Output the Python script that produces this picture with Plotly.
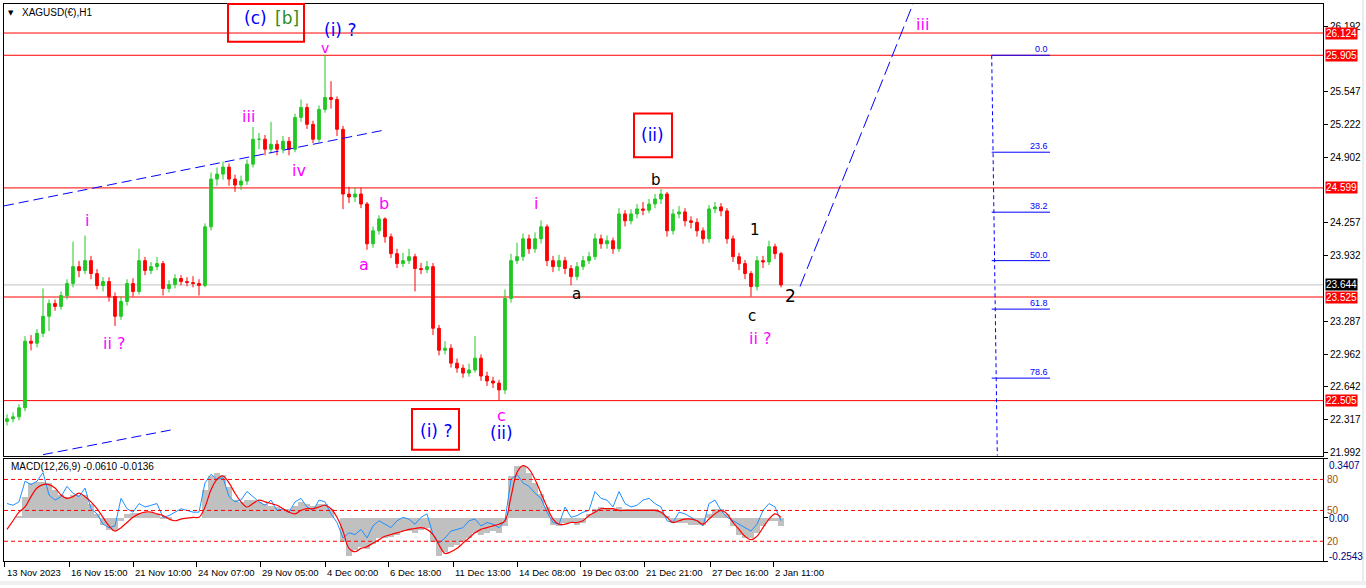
import plotly.graph_objects as go

W, H = 1366, 588
PX_L, PX_R = 4, 1323
MAIN_T, MAIN_B = 4, 458
MACD_T, MACD_B = 461, 564

PRICE_TOP, PRICE_BOT = 26.410, 21.963
MACD_TOP, MACD_BOT = 0.3407, -0.2543

# ---------------- data ----------------
first_open = 22.300
closes = [22.326, 22.345, 22.434, 23.090, 23.070, 23.168, 23.335, 23.462, 23.432, 23.540,
          23.658, 23.824, 23.785, 23.883, 23.756, 23.638, 23.677, 23.530, 23.335, 23.481,
          23.658, 23.579, 23.883, 23.785, 23.824, 23.854, 23.609, 23.648, 23.707, 23.677,
          23.668, 23.658, 23.638, 24.216, 24.686, 24.735, 24.804, 24.686, 24.627, 24.667,
          24.833, 25.078, 25.078, 24.980, 25.029, 24.980, 25.058, 24.980, 25.293, 25.391,
          25.225, 25.078, 25.372, 25.489, 25.470, 25.176, 24.539, 24.510, 24.539, 24.441,
          24.049, 24.177, 24.294, 24.118, 23.952, 23.854, 23.883, 23.922, 23.805, 23.795,
          23.824, 23.217, 23.001, 23.021, 22.874, 22.825, 22.776, 22.806, 22.923, 22.747,
          22.698, 22.678, 22.610, 23.510, 23.883, 23.922, 24.098, 24.000, 24.098, 24.216,
          23.883, 23.824, 23.883, 23.805, 23.726, 23.824, 23.883, 23.922, 24.098, 24.049,
          24.079, 24.000, 24.343, 24.275, 24.343, 24.392, 24.380, 24.441, 24.490, 24.539,
          24.177, 24.343, 24.363, 24.275, 24.260, 24.177, 24.098, 24.392, 24.412, 24.373,
          24.098, 23.922, 23.854, 23.756, 23.628, 23.883, 23.870, 24.020, 23.952, 23.644]
highs = [22.37, 22.39, 22.47, 23.14, 23.15, 23.21, 23.61, 23.50, 23.50, 23.58,
         23.70, 24.07, 23.88, 24.13, 23.93, 23.80, 23.72, 23.72, 23.57, 23.53,
         23.70, 23.71, 24.00, 23.92, 23.87, 23.92, 23.88, 23.69, 23.75, 23.74,
         23.72, 23.73, 23.70, 24.25, 24.75, 24.80, 24.86, 24.84, 24.73, 24.72,
         24.88, 25.20, 25.14, 25.12, 25.25, 25.07, 25.11, 25.10, 25.33, 25.47,
         25.43, 25.26, 25.41, 25.91, 25.65, 25.50, 25.21, 24.61, 24.60, 24.60,
         24.46, 24.22, 24.33, 24.31, 24.15, 24.00, 23.96, 24.00, 23.95, 23.86,
         23.88, 23.86, 23.25, 23.09, 23.06, 22.92, 22.86, 22.87, 23.14, 22.96,
         22.79, 22.74, 22.71, 23.60, 23.95, 24.06, 24.15, 24.14, 24.16, 24.28,
         24.24, 23.93, 23.94, 23.92, 23.84, 23.87, 23.93, 23.97, 24.15, 24.14,
         24.13, 24.11, 24.40, 24.38, 24.39, 24.44, 24.46, 24.49, 24.54, 24.59,
         24.56, 24.39, 24.42, 24.40, 24.32, 24.30, 24.21, 24.43, 24.46, 24.45,
         24.40, 24.13, 23.96, 23.89, 23.78, 23.93, 23.93, 24.08, 24.05, 23.97]
lows = [22.26, 22.29, 22.31, 22.40, 23.00, 23.03, 23.13, 23.19, 23.39, 23.40,
        23.50, 23.62, 23.72, 23.75, 23.70, 23.60, 23.58, 23.48, 23.24, 23.30,
        23.44, 23.53, 23.55, 23.74, 23.75, 23.79, 23.54, 23.57, 23.61, 23.64,
        23.63, 23.62, 23.54, 23.62, 24.18, 24.62, 24.68, 24.62, 24.56, 24.58,
        24.63, 24.80, 24.98, 24.92, 24.94, 24.92, 24.94, 24.92, 24.95, 25.25,
        25.18, 25.04, 25.05, 25.34, 25.38, 25.11, 24.39, 24.45, 24.46, 24.40,
        23.99, 24.01, 24.14, 24.06, 23.91, 23.81, 23.82, 23.85, 23.58, 23.75,
        23.76, 23.15, 22.95, 22.96, 22.83, 22.78, 22.73, 22.74, 22.78, 22.70,
        22.65, 22.63, 22.51, 22.57, 23.47, 23.85, 23.88, 23.95, 23.96, 24.05,
        23.83, 23.77, 23.78, 23.75, 23.64, 23.69, 23.79, 23.85, 23.89, 24.00,
        24.00, 23.95, 23.97, 24.22, 24.24, 24.30, 24.33, 24.35, 24.40, 24.44,
        24.12, 24.14, 24.30, 24.22, 24.20, 24.12, 24.05, 24.06, 24.35, 24.32,
        24.05, 23.87, 23.79, 23.70, 23.53, 23.59, 23.81, 23.84, 23.90, 23.62]

macd_hist = [0.0, 0.0, 0.01, 0.12, 0.2, 0.21, 0.21, 0.2, 0.16, 0.13,
             0.12, 0.13, 0.13, 0.13, 0.08, 0.02, -0.04, -0.07, -0.08, -0.02,
             0.02, 0.03, 0.03, 0.03, 0.03, 0.02, -0.01, -0.01, 0.0, 0.0,
             0.0, 0.0, 0.0, 0.16, 0.24, 0.26, 0.25, 0.18, 0.1, 0.09,
             0.1, 0.1, 0.09, 0.08, 0.07, 0.06, 0.05, 0.05, 0.07, 0.09,
             0.08, 0.07, 0.08, 0.08, 0.05, 0.0, -0.14, -0.22, -0.19, -0.17,
             -0.18, -0.15, -0.12, -0.12, -0.11, -0.1, -0.08, -0.08, -0.09, -0.07,
             -0.06, -0.14, -0.22, -0.2, -0.17, -0.16, -0.14, -0.12, -0.09, -0.1,
             -0.09, -0.08, -0.09, -0.05, 0.24, 0.3, 0.3, 0.26, 0.2, 0.14,
             0.06, -0.04, -0.05, -0.03, -0.03, -0.04, -0.03, 0.02, 0.05, 0.06,
             0.05, 0.05, 0.06, 0.05, 0.05, 0.05, 0.05, 0.05, 0.05, 0.04,
             0.01, -0.03, -0.03, -0.03, -0.04, -0.04, -0.04, 0.02, 0.05, 0.05,
             0.02, -0.05, -0.1, -0.12, -0.12, -0.09, -0.05, -0.02, -0.02, -0.05]
macd_signal = [-0.07, -0.02, 0.03, 0.06, 0.12, 0.17, 0.19, 0.19, 0.17, 0.13,
               0.11, 0.12, 0.14, 0.12, 0.09, 0.05, 0.0, -0.05, -0.08, -0.06,
               -0.03, 0.0, 0.02, 0.03, 0.03, 0.02, 0.01, -0.01, -0.02, -0.01,
               -0.005, 0.0, 0.0, 0.06, 0.16, 0.22, 0.24, 0.2, 0.14, 0.09,
               0.06, 0.08, 0.1, 0.09, 0.08, 0.07, 0.05, 0.03, 0.02, 0.04,
               0.05, 0.05, 0.06, 0.07, 0.05, 0.0, -0.08, -0.18, -0.2, -0.18,
               -0.17, -0.15, -0.13, -0.11, -0.1, -0.09, -0.08, -0.07, -0.065, -0.06,
               -0.07, -0.1, -0.16, -0.21, -0.2, -0.18, -0.15, -0.12, -0.09, -0.07,
               -0.06, -0.05, -0.04, -0.02, 0.12, 0.26, 0.3, 0.28, 0.22, 0.14,
               0.06, -0.01, -0.04, -0.04, -0.03, -0.03, -0.02, 0.01, 0.03, 0.05,
               0.05, 0.05, 0.04, 0.04, 0.04, 0.04, 0.04, 0.04, 0.04, 0.03,
               0.0, -0.03, -0.02, -0.01, -0.01, -0.02, -0.04, -0.01, 0.02, 0.04,
               0.02, -0.03, -0.07, -0.11, -0.13, -0.11, -0.06, -0.01, 0.02, 0.0]
blue_line = [0.08, 0.07, 0.09, 0.21, 0.19, 0.21, 0.26, 0.13, 0.10, 0.12,
             0.18, 0.14, 0.12, 0.17, 0.05, 0.02, -0.04, -0.06, -0.05, 0.11,
             0.05, 0.03, 0.08, 0.06, 0.07, 0.08, 0.0, 0.01, 0.03, 0.05,
             0.04, 0.03, 0.03, 0.2, 0.25, 0.22, 0.23, 0.12, 0.09, 0.1,
             0.15, 0.12, 0.09, 0.07, 0.1, 0.04, 0.05, 0.03, 0.09, 0.11,
             0.06, 0.04, 0.1, 0.09, 0.02, -0.03, -0.12, -0.09, -0.1, -0.07,
             -0.12, -0.05, -0.02, -0.04, -0.06, -0.02, 0.0, -0.01, -0.04, 0.0,
             0.02, -0.1, -0.15, -0.12, -0.08, -0.07, -0.06, -0.02, -0.01, -0.05,
             -0.03, -0.04, -0.06, -0.02, 0.22, 0.25, 0.2, 0.18, 0.14, 0.11,
             0.03, -0.03, -0.04, 0.06, 0.0, 0.01, 0.03, 0.04, 0.15, 0.11,
             0.1, 0.06, 0.15, 0.08, 0.06, 0.07, 0.1, 0.11, 0.08, 0.06,
             -0.02, -0.03, 0.03, 0.02, 0.0, -0.02, -0.05, 0.08, 0.1, 0.04,
             0.0, -0.02, -0.04, -0.06, -0.08, -0.04, 0.04, 0.08, 0.06, -0.02]

# horizontal levels
red_levels = [26.124, 25.905, 24.599, 23.525, 22.505]
last_price = 23.644
price_ticks = [26.192, 25.547, 25.222, 24.902, 24.257, 23.932,
               23.287, 22.962, 22.642, 22.317, 21.992]
macd_levels = [0.22, 0.04, -0.139]           # the 80 / 50 / 20 dashed lines
macd_level_names = ["80", "50", "20"]

# fibonacci retracement (from 25.905 down to 21.861)
fib_hi, fib_lo = 25.905, 21.861
fib_ratios = [0.0, 23.6, 38.2, 50.0, 61.8, 78.6]

# time axis (bar index units)
time_tick_pos = [0.5, 65, 129, 192, 256, 321, 384, 449, 513, 576, 640, 706, 769]
time_tick_labels = ["13 Nov 2023", "16 Nov 15:00", "21 Nov 10:00", "24 Nov 07:00",
                    "29 Nov 05:00", "4 Dec 00:00", "6 Dec 18:00", "11 Dec 13:00",
                    "14 Dec 08:00", "19 Dec 03:00", "21 Dec 21:00", "27 Dec 16:00",
                    "2 Jan 11:00"]

# ---------------- helpers ----------------
def pxx(x):
    return x / W

def pxy(y):
    return 1 - y / H

X_RANGE = [0, PX_R - PX_L]
bar_x = [3 + 6 * k for k in range(len(closes))]
opens = [first_open] + closes[:-1]

GREEN = "#22C822"
RED = "#FF0000"
BLUE = "#0000FF"
MAG = "#FF00FF"

fig = go.Figure()

fig.add_trace(go.Candlestick(
    x=bar_x, open=opens, high=highs, low=lows, close=closes,
    increasing=dict(line=dict(color=GREEN, width=1), fillcolor=GREEN),
    decreasing=dict(line=dict(color=RED, width=1), fillcolor=RED),
    whiskerwidth=0, xaxis="x", yaxis="y", showlegend=False, hoverinfo="skip"))

fig.add_trace(go.Bar(x=bar_x, y=macd_hist, width=6, marker=dict(color="#C0C0C0", line=dict(width=0)),
                     xaxis="x2", yaxis="y2", showlegend=False, hoverinfo="skip"))
fig.add_trace(go.Scatter(x=bar_x, y=blue_line, mode="lines", line=dict(color="#1E90FF", width=1),
                         xaxis="x2", yaxis="y2", showlegend=False, hoverinfo="skip"))
fig.add_trace(go.Scatter(x=bar_x, y=macd_signal, mode="lines", line=dict(color=RED, width=1.2, shape="spline"),
                         xaxis="x2", yaxis="y2", showlegend=False, hoverinfo="skip"))

shapes = []
# red horizontal levels
for lv in red_levels:
    shapes.append(dict(type="line", xref="x", yref="y", x0=X_RANGE[0], x1=X_RANGE[1], y0=lv, y1=lv,
                       line=dict(color=RED, width=1), layer="below"))
shapes.append(dict(type="line", xref="x", yref="y", x0=X_RANGE[0], x1=X_RANGE[1], y0=last_price, y1=last_price,
                   line=dict(color="#C0C0C0", width=1), layer="below"))

# trend / projection lines (bar index, price)
trend_lines = [
    ((0, 24.422), (379, 25.166), "10px,5px"),
    ((39, 21.973), (168, 22.218), "10px,5px"),
    ((796, 23.628), (909, 26.410), "14px,5px"),
]
for (x0, y0), (x1, y1), dash in trend_lines:
    shapes.append(dict(type="line", xref="x", yref="y", x0=x0, y0=y0, x1=x1, y1=y1,
                       line=dict(color=BLUE, width=1, dash=dash)))

# fibonacci
fib_x0, fib_x1 = 987.7, 1046
fib_vx_bottom = 993.3
shapes.append(dict(type="line", xref="x", yref="y", x0=fib_x0, y0=fib_hi, x1=fib_vx_bottom, y1=PRICE_BOT,
                   line=dict(color=BLUE, width=1, dash="4px,3px")))
annotations = []
for r in fib_ratios:
    lvl = fib_hi - r / 100 * (fib_hi - fib_lo)
    shapes.append(dict(type="line", xref="x", yref="y", x0=fib_x0, x1=fib_x1, y0=lvl, y1=lvl,
                       line=dict(color=BLUE, width=1)))
    annotations.append(dict(x=fib_x1, y=lvl, xref="x", yref="y", text=f"{r:.1f}", showarrow=False,
                            xanchor="right", yanchor="bottom", yshift=-1,
                            font=dict(family="Liberation Sans", size=9, color=BLUE)))

# MACD dashed levels
for lv in macd_levels:
    shapes.append(dict(type="line", xref="x2", yref="y2", x0=X_RANGE[0], x1=X_RANGE[1], y0=lv, y1=lv,
                       line=dict(color=RED, width=1, dash="4px,3px")))

# red boxes around labels (pixel rects)
boxes = [(228, 4, 304, 42), (412, 411, 459, 452), (634, 114, 672, 158)]
for x0, y0, x1, y1 in boxes:
    shapes.append(dict(type="rect", xref="paper", yref="paper", x0=pxx(x0), x1=pxx(x1), y0=pxy(y1), y1=pxy(y0),
                       line=dict(color=RED, width=2)))

# thin window-edge strips
shapes.append(dict(type="rect", xref="paper", yref="paper", x0=0, x1=1, y0=0, y1=pxy(584),
                   fillcolor="#F0F0F0", line=dict(width=0), layer="below"))
shapes.append(dict(type="line", xref="paper", yref="paper", x0=pxx(1363), x1=pxx(1363), y0=pxy(584), y1=1,
                   line=dict(color="#D8D8D8", width=1)))

# wave labels (pixel centre positions)
wave_labels = [
    ("(c)", 255, 18, BLUE, 17), ("[b]", 287, 18, "#2E8B22", 17),
    ("(i) ?", 340, 30, BLUE, 17), ("v", 325, 48, MAG, 14),
    ("iii", 248, 117, MAG, 16), ("iv", 299, 171, MAG, 16),
    ("i", 87, 222, MAG, 16), ("ii ?", 114, 345, MAG, 16),
    ("a", 364, 266, MAG, 16), ("b", 384, 205, MAG, 16),
    ("c", 501, 418, MAG, 16), ("(ii)", 501, 435, BLUE, 17),
    ("(i) ?", 436, 433, BLUE, 17), ("i", 536, 205, MAG, 16),
    ("a", 576, 296, "black", 15), ("b", 656, 181, "black", 15),
    ("(ii)", 652, 136, BLUE, 17), ("1", 755, 231, "black", 15),
    ("c", 752, 318, "black", 15), ("ii ?", 760, 340, MAG, 16),
    ("2", 791, 298, "black", 17), ("iii", 922, 25, MAG, 16),
]
for t, x, y, c, s in wave_labels:
    annotations.append(dict(x=pxx(x), y=pxy(y), xref="paper", yref="paper", text=t, showarrow=False,
                            xanchor="center", yanchor="middle", borderpad=0,
                            font=dict(family="DejaVu Sans", size=s, color=c)))

# price boxes on the right axis
for lv in red_levels:
    annotations.append(dict(x=pxx(PX_R + 2), y=lv, xref="paper", yref="y", text=f"{lv:.3f}", showarrow=False,
                            xanchor="left", yanchor="middle", bgcolor=RED, borderpad=0,
                            font=dict(family="Liberation Sans", size=10, color="white")))
annotations.append(dict(x=pxx(PX_R + 2), y=last_price, xref="paper", yref="y", text=f"{last_price:.3f}",
                        showarrow=False, xanchor="left", yanchor="middle", bgcolor="black", borderpad=0,
                        font=dict(family="Liberation Sans", size=10, color="white")))

# MACD right labels
macd_right = [(f"{MACD_TOP:.4f}", MACD_TOP, 7, "#000080"), ("0.00", 0.0, 1, "#000080"),
              (f"{MACD_BOT:.4f}", MACD_BOT, -5, "#000080")]
for t, v, shift, c in macd_right:
    annotations.append(dict(x=pxx(PX_R + 4), y=v, xref="paper", yref="y2", text=t, showarrow=False,
                            xanchor="left", yanchor="middle", yshift=-shift,
                            font=dict(family="Liberation Sans", size=10, color=c)))
for name, lv in zip(macd_level_names, macd_levels):
    annotations.append(dict(x=pxx(PX_R + 2), y=lv, xref="paper", yref="y2", text=name, showarrow=False,
                            xanchor="left", yanchor="middle",
                            font=dict(family="Liberation Sans", size=10, color="#A05000")))

# time labels
for pos, lab in zip(time_tick_pos, time_tick_labels):
    annotations.append(dict(x=pos, y=pxy(575), xref="x2", yref="paper", text=lab, showarrow=False,
                            xanchor="left", yanchor="middle", xshift=0,
                            font=dict(family="Liberation Sans", size=9.5, color="black")))

# headers
annotations.append(dict(x=pxx(20), y=pxy(13), xref="paper", yref="paper", text="XAGUSD(€),H1", showarrow=False,
                        xanchor="left", yanchor="middle", font=dict(family="Liberation Sans", size=10, color="black")))
annotations.append(dict(x=pxx(11), y=pxy(13), xref="paper", yref="paper", text="▼", showarrow=False,
                        xanchor="center", yanchor="middle", font=dict(family="DejaVu Sans", size=7, color="black")))
annotations.append(dict(x=pxx(9), y=pxy(469), xref="paper", yref="paper",
                        text="MACD(12,26,9) -0.0610 -0.0136", showarrow=False,
                        xanchor="left", yanchor="middle", font=dict(family="Liberation Sans", size=10, color="black")))

axis_common = dict(showgrid=False, zeroline=False, showline=True, linecolor="black", linewidth=1, mirror=True)

fig.update_layout(
    width=W, height=H, margin=dict(l=0, r=0, t=0, b=0),
    paper_bgcolor="white", plot_bgcolor="white", bargap=0, boxgap=0.35, showlegend=False,
    xaxis=dict(domain=[pxx(PX_L), pxx(PX_R)], range=X_RANGE, anchor="y", showticklabels=False,
               rangeslider=dict(visible=False), **axis_common),
    yaxis=dict(domain=[pxy(MAIN_B), pxy(MAIN_T)], range=[PRICE_BOT, PRICE_TOP], anchor="x", side="right",
               tickvals=price_ticks, ticktext=[f"{v:.3f}" for v in price_ticks], ticks="outside", ticklen=4,
               tickcolor="black", tickfont=dict(family="Liberation Sans", size=10, color="black"), **axis_common),
    xaxis2=dict(domain=[pxx(PX_L), pxx(PX_R)], range=X_RANGE, anchor="y2", tickvals=time_tick_pos,
                ticks="outside", ticklen=5, tickcolor="black", showticklabels=False, **axis_common),
    yaxis2=dict(domain=[pxy(MACD_B), pxy(MACD_T)], range=[MACD_BOT, MACD_TOP], anchor="x2", side="right",
                tickvals=[MACD_TOP, 0.0, MACD_BOT], ticks="outside", ticklen=4, tickcolor="black",
                showticklabels=False, **axis_common),
    shapes=shapes, annotations=annotations,
)

fig.write_html("out.html", config={"displayModeBar": False},
               post_script="document.body.style.margin='0';document.body.style.padding='0';"
                           "document.body.style.overflow='hidden';")
